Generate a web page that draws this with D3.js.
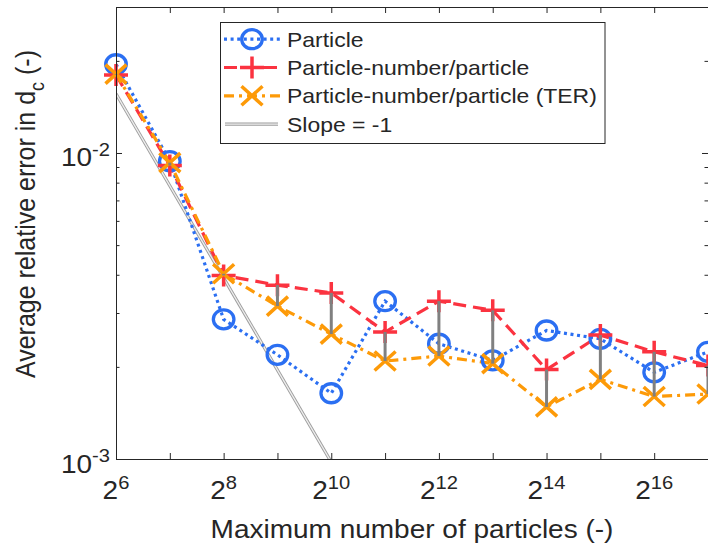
<!DOCTYPE html>
<html>
<head>
<meta charset="utf-8">
<script src="https://cdn.jsdelivr.net/npm/d3@7"></script>
<style>
  html, body { margin: 0; padding: 0; background: #fff; }
  svg { display: block; }
  text { font-family: "Liberation Sans", Arial, Helvetica, sans-serif; fill: #262626; }
</style>
</head>
<body>
<svg id="chart" width="708" height="550"></svg>
<script>
// Maximum number of particles, as powers of two
const exponents = [6, 7, 8, 9, 10, 11, 12, 13, 14, 15, 16, 17];

// Average relative error in d_c for each method
const particle = [0.0195, 0.0094, 0.00286, 0.00219, 0.00164, 0.00328, 0.00238, 0.00210, 0.00263, 0.00247, 0.00192, 0.00224];
const particleNumber = [0.0180, 0.0091, 0.00398, 0.00370, 0.00349, 0.00260, 0.00328, 0.00306, 0.00196, 0.00254, 0.00224, 0.00202];
const particleNumberTER = [0.0181, 0.0093, 0.00403, 0.00316, 0.00256, 0.00209, 0.00217, 0.00205, 0.00148, 0.00182, 0.00160, 0.00163];

// Reference line with slope -1 (error = 1 / N)
const slopeExponents = [6, 10];
const slopeCoefficient = 1;

// Axis ticks
const xTickExponents = [6, 7, 8, 9, 10, 11, 12, 13, 14, 15, 16, 17];
const xLabelExponents = [6, 8, 10, 12, 14, 16];
const yMajorExponents = [-3, -2];
const yMinorValues = [0.002, 0.003, 0.004, 0.005, 0.006, 0.007, 0.008, 0.009, 0.02, 0.03];

const legendLabels = ["Particle", "Particle-number/particle", "Particle-number/particle (TER)", "Slope = -1"];

const colors = { blue: "#2b6ff2", red: "#fb3340", orange: "#fd9a08", grey: "#808080", axis: "#262626" };
const stretch = 1.12; // horizontal text aspect

const svg = d3.select("#chart");
const L = 116, R = 708, T = 7, B = 459;

const x = d3.scaleLog().base(2).domain([2 ** 6, 2 ** 17]).range([L, R]);
const y = d3.scaleLog().domain([1e-3, 3e-2]).range([B, T]);

svg.append("defs").append("clipPath").attr("id", "plotClip")
  .append("rect").attr("x", L).attr("y", T).attr("width", R - L).attr("height", B - T);

// ---- slope -1 reference line (light double stroke)
function slopeStroke(g, d) {
  g.append("path").attr("d", d).attr("fill", "none")
    .attr("stroke", "#9c9c9c").attr("stroke-width", 3.2);
  g.append("path").attr("d", d).attr("fill", "none")
    .attr("stroke", "#efefef").attr("stroke-width", 1.3);
}
const slopeData = slopeExponents.map(e => [2 ** e, slopeCoefficient / 2 ** e]);
const lineGen = d3.line().x(d => x(d[0])).y(d => y(d[1]));
slopeStroke(svg.append("g").attr("clip-path", "url(#plotClip)"), lineGen(slopeData));

// ---- series definitions
const series = [
  { name: legendLabels[0], values: particle, color: colors.blue, dash: "3 3.6", marker: "circle" },
  { name: legendLabels[1], values: particleNumber, color: colors.red, dash: "13 7", marker: "plus" },
  { name: legendLabels[2], values: particleNumberTER, color: colors.orange, dash: "10 5 3 5", marker: "cross" }
];

function drawMarker(g, type, cx, cy, color) {
  if (type === "circle") {
    g.append("ellipse").attr("cx", cx).attr("cy", cy).attr("rx", 10.3).attr("ry", 9.5)
      .attr("fill", "none").attr("stroke", color).attr("stroke-width", 3.3);
  } else if (type === "plus") {
    const w = 12, h = 11;
    g.append("path").attr("d", `M${cx - w},${cy}H${cx + w}M${cx},${cy - h}V${cy + h}`)
      .attr("stroke", color).attr("stroke-width", 3.5).attr("fill", "none");
  } else {
    const w = 10.5, h = 9.5;
    g.append("path").attr("d", `M${cx - w},${cy - h}L${cx + w},${cy + h}M${cx - w},${cy + h}L${cx + w},${cy - h}`)
      .attr("stroke", color).attr("stroke-width", 3.5).attr("fill", "none");
  }
}

const dataG = svg.append("g");
series.forEach(s => {
  const pts = exponents.map((e, i) => [2 ** e, s.values[i]]);
  dataG.append("path").attr("d", lineGen(pts)).attr("fill", "none")
    .attr("stroke", s.color).attr("stroke-width", 3.2).attr("stroke-dasharray", s.dash);
});
series.forEach(s => {
  exponents.forEach((e, i) => drawMarker(dataG, s.marker, x(2 ** e), y(s.values[i]), s.color));
});

// ---- grey connectors between the two particle-number variants
dataG.selectAll("line.gap").data(exponents).join("line").attr("class", "gap")
  .attr("x1", e => x(2 ** e)).attr("x2", e => x(2 ** e))
  .attr("y1", (e, i) => y(particleNumber[i])).attr("y2", (e, i) => y(particleNumberTER[i]))
  .attr("stroke", colors.grey).attr("stroke-width", 3);

// ---- axes box and ticks
const axisG = svg.append("g");
const xAxisB = d3.axisBottom(x).tickValues(xTickExponents.map(e => 2 ** e)).tickSizeInner(-6).tickSizeOuter(0).tickFormat("");
const xAxisT = d3.axisTop(x).tickValues(xTickExponents.map(e => 2 ** e)).tickSizeInner(-6).tickSizeOuter(0).tickFormat("");
const yAxisL = d3.axisLeft(y).tickValues(yMajorExponents.map(e => 10 ** e)).tickSizeInner(-6).tickSizeOuter(0).tickFormat("");
const yAxisR = d3.axisRight(y).tickValues(yMajorExponents.map(e => 10 ** e)).tickSizeInner(-6).tickSizeOuter(0).tickFormat("");
const yMinorL = d3.axisLeft(y).tickValues(yMinorValues).tickSizeInner(-3.5).tickSizeOuter(0).tickFormat("");
const yMinorR = d3.axisRight(y).tickValues(yMinorValues).tickSizeInner(-3.5).tickSizeOuter(0).tickFormat("");

axisG.append("g").attr("transform", `translate(0,${B})`).call(xAxisB);
axisG.append("g").attr("transform", `translate(0,${T})`).call(xAxisT);
axisG.append("g").attr("transform", `translate(${L},0)`).call(yAxisL);
axisG.append("g").attr("transform", `translate(${R},0)`).call(yAxisR);
axisG.append("g").attr("transform", `translate(${L},0)`).call(yMinorL);
axisG.append("g").attr("transform", `translate(${R},0)`).call(yMinorR);
axisG.selectAll(".domain, .tick line").attr("stroke", colors.axis).attr("stroke-width", 1);

// ---- tick labels with superscripts
xLabelExponents.forEach(e => {
  const t = svg.append("text")
    .attr("transform", `translate(${x(2 ** e)},499) scale(${stretch},1)`)
    .attr("text-anchor", "middle").style("font-size", "25px");
  t.append("tspan").text("2");
  t.append("tspan").attr("dy", -10).style("font-size", "18px").text(e);
});
yMajorExponents.forEach(e => {
  const t = svg.append("text")
    .attr("transform", `translate(${L - 6},${y(10 ** e) + 13.5}) scale(${stretch},1)`)
    .attr("text-anchor", "end").style("font-size", "25px");
  t.append("tspan").text("10");
  t.append("tspan").attr("dy", -11).style("font-size", "18px").text(e);
});

// ---- axis titles
svg.append("text")
  .attr("transform", `translate(${(L + R) / 2},538) scale(${stretch},1)`)
  .attr("text-anchor", "middle").style("font-size", "25px")
  .text("Maximum number of particles (-)");

const yl = svg.append("text")
  .attr("transform", `translate(35,378) scale(${stretch},1) rotate(-90)`)
  .attr("text-anchor", "start").style("font-size", "25px");
yl.append("tspan").text("Average relative error in d");
yl.append("tspan").attr("dy", 8).style("font-size", "18px").text("c");
yl.append("tspan").attr("dy", -8).text(" (-)");

// ---- legend
const lg = svg.append("g");
lg.append("rect").attr("x", 220.5).attr("y", 22.5).attr("width", 384.5).attr("height", 121)
  .attr("fill", "#fff").attr("stroke", colors.axis).attr("stroke-width", 1);
const rowBase = [46.7, 75, 103.3, 131.7];
series.forEach((s, i) => {
  const cy = rowBase[i] - 7.5;
  lg.append("line").attr("x1", 224).attr("x2", 280).attr("y1", cy).attr("y2", cy)
    .attr("stroke", s.color).attr("stroke-width", 3.2).attr("stroke-dasharray", s.dash);
  drawMarker(lg, s.marker, 252, cy, s.color);
});
slopeStroke(lg, `M225,${rowBase[3] - 7.5}H278`);
legendLabels.forEach((lab, i) => {
  lg.append("text").attr("transform", `translate(287,${rowBase[i]}) scale(${stretch},1)`)
    .style("font-size", "20.5px").text(lab);
});
</script>
</body>
</html>
